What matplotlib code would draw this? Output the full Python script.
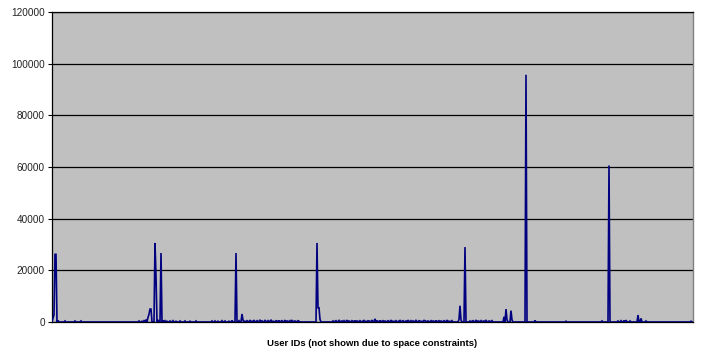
import numpy as np
import matplotlib
matplotlib.use("Agg")
import matplotlib.pyplot as plt

# Number of users along the x axis (IDs are not labelled)
n_users = 642

# Users with notable request counts: position along the axis -> requests
peak_users = [1, 2, 3, 4, 6, 13, 23, 29, 87, 90, 92, 94, 96, 97, 98, 99,
              103, 104, 106, 109, 111, 113, 115, 118, 121, 124, 128, 133,
              138, 144, 160, 163, 166, 170, 173, 177, 180, 184, 187, 190,
              191, 265, 266, 267, 268, 323, 407, 408, 409, 413, 452, 454,
              455, 459, 460, 474, 483, 514, 550, 557, 566, 569, 572, 574,
              578, 586, 589, 594, 639]
peak_requests = [1500, 2700, 26200, 26200, 600, 400, 400, 400, 400, 300,
                 500, 900, 1800, 3000, 5000, 5000,
                 30600, 17750, 800, 26700, 600, 500, 300, 400, 500, 300,
                 400, 400, 300, 400, 400, 400, 300, 500, 400, 300, 600,
                 26700, 500, 3100, 700, 30600, 5500, 5500, 1000, 1200,
                 1000, 6300, 800, 29000, 2000, 5000, 800, 4400, 800, 95700,
                 600, 300, 400, 60600, 400, 500, 600, 700, 400, 2700, 1400,
                 400, 300]

# Stretches of users with steady low activity: first position, counts
low_start_a = 193
low_requests_a = [300, 0, 500, 200, 0, 700, 300, 0, 400, 600, 0, 200, 500,
                  0, 300, 800, 0, 400, 200, 0, 600, 300, 0, 500, 0, 400,
                  700, 0, 300, 200, 0, 500, 400, 0, 600, 0, 300, 500, 0,
                  200, 700, 0, 400, 300, 0, 500, 0, 600, 300, 0, 400, 200,
                  0, 500, 300, 0]
low_start_b = 281
low_requests_b = [400, 0, 300, 500, 0, 200, 600, 0, 300, 400, 0, 500, 0,
                  300, 700, 0, 400, 200, 0, 500, 300, 0, 600, 0, 400, 300,
                  0, 500, 200, 0, 400, 600, 0, 300, 0, 500, 400, 0, 300,
                  700, 0, 200, 500, 0, 400, 300, 0, 600, 0, 300, 500, 0,
                  400, 200, 0, 500, 300, 0, 600, 400, 0, 300, 0, 500, 200,
                  0, 400, 600, 0, 300, 500, 0, 200, 400, 0, 700, 300, 0,
                  500, 0, 400, 300, 0, 600, 200, 0, 500, 400, 0, 300, 0,
                  600, 500, 0, 300, 400, 0, 200, 500, 0, 400, 300, 0, 600,
                  0, 300, 500, 0, 400, 200, 0, 500, 300, 0, 600, 400, 0,
                  300, 0, 500]
low_start_c = 418
low_requests_c = [400, 0, 300, 500, 0, 200, 600, 0, 400, 300, 0, 500, 0,
                  300, 400, 0, 600, 200, 0, 400, 300, 0, 500]

y_ticks = [0, 20000, 40000, 60000, 80000, 100000, 120000]
x_label = "User IDs (not shown due to space constraints)"

requests = np.zeros(n_users)
for start, vals in ((low_start_a, low_requests_a),
                    (low_start_b, low_requests_b),
                    (low_start_c, low_requests_c)):
    requests[start:start + len(vals)] = vals
requests[peak_users] = peak_requests

plt.rcParams["font.family"] = ["Liberation Sans", "DejaVu Sans"]

fig = plt.figure(figsize=(7.01, 3.52), dpi=100)
ax = fig.add_axes([52 / 701, 1 - 322 / 352, (693 - 52) / 701, (322 - 12) / 352])
ax.set_facecolor("#C0C0C0")

ax.plot(np.arange(n_users), requests, color="#000080", lw=1.2,
        solid_joinstyle="miter", zorder=3)

ax.set_xlim(0, n_users - 1)
ax.set_ylim(0, 120000)
ax.set_yticks(y_ticks)
ax.set_yticklabels([str(t) for t in y_ticks], fontsize=7.2, color="#222222")
ax.set_xticks([])
ax.grid(axis="y", color="black", lw=0.9, zorder=1)
ax.set_axisbelow(True)

ax.tick_params(axis="y", direction="out", length=3, width=0.8, pad=2,
               color="black")
for side in ("left", "bottom", "top"):
    ax.spines[side].set_color("black")
    ax.spines[side].set_linewidth(0.9)
ax.spines["right"].set_color("#808080")
ax.spines["right"].set_linewidth(1.0)

ax.set_xlabel(x_label, fontsize=6.8, fontweight="bold", labelpad=12)

fig.savefig("out.png", dpi=100, facecolor="white")
